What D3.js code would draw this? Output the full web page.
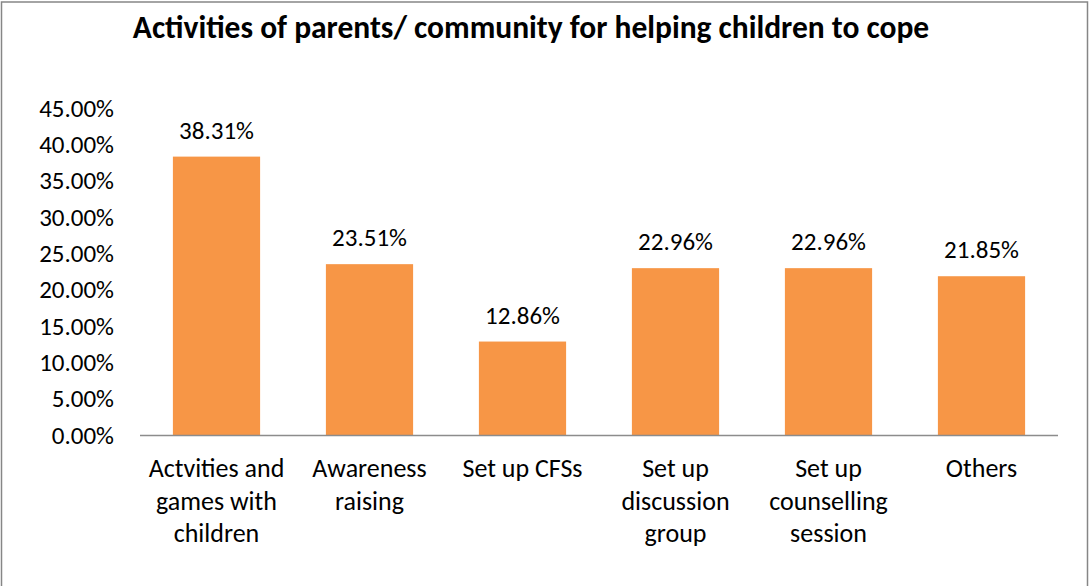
<!DOCTYPE html>
<html>
<head>
<meta charset="utf-8">
<script src="https://cdn.jsdelivr.net/npm/d3@7"></script>
<style>
  html, body { margin: 0; padding: 0; background: #fff; }
  svg { display: block; font-family: Carlito, Calibri, Lato, sans-serif; }
</style>
</head>
<body>
<svg id="chart" width="1092" height="586"></svg>
<script>
const chartTitle = "Activities of parents/ community for helping children to cope";
const categories = [
  ["Actvities and", "games with", "children"],
  ["Awareness", "raising"],
  ["Set up CFSs"],
  ["Set up", "discussion", "group"],
  ["Set up", "counselling", "session"],
  ["Others"]
];
const values = [0.3831, 0.2351, 0.1286, 0.2296, 0.2296, 0.2185];
const yTicks = [0, 0.05, 0.10, 0.15, 0.20, 0.25, 0.30, 0.35, 0.40, 0.45];

const svg = d3.select("#chart");
const W = 1092, H = 586;
const m = { left: 140, right: 34, top: 108, bottom: 151 };
const FONT = "Carlito, Calibri, Lato, sans-serif";

svg.append("rect").attr("x", 1.5).attr("y", 2).attr("width", W - 6).attr("height", H + 10)
  .attr("fill", "#fff").attr("stroke", "#868686").attr("stroke-width", 1.5);

svg.append("text").attr("x", 531).attr("y", 38).attr("text-anchor", "middle")
  .attr("font-weight", "bold").attr("font-size", 31.5).attr("fill", "#000")
  .text(chartTitle);

const x = d3.scaleBand().domain(d3.range(categories.length))
  .range([m.left, W - m.right]).paddingInner(0.43).paddingOuter(0.215);
const y = d3.scaleLinear().domain([0, 0.45]).range([H - m.bottom, m.top]);

// y axis labels
const yAxis = d3.axisLeft(y).tickValues(yTicks).tickFormat(d3.format(".2%")).tickSize(0).tickPadding(26);
const ya = svg.append("g").attr("transform", `translate(${m.left},0)`).call(yAxis);
ya.select(".domain").remove();
ya.selectAll("text").attr("font-size", 25).attr("fill", "#000").attr("font-family", FONT);

// bars
svg.append("g").selectAll("rect").data(values).join("rect")
  .attr("x", (d, i) => x(i)).attr("width", x.bandwidth())
  .attr("y", d => y(d)).attr("height", d => y(0) - y(d))
  .attr("fill", "#F79646");

// baseline
svg.append("line").attr("x1", m.left).attr("x2", W - m.right)
  .attr("y1", y(0) + 0.5).attr("y2", y(0) + 0.5).attr("stroke", "#8c8c8c").attr("stroke-width", 1.5);

// value labels
svg.append("g").selectAll("text").data(values).join("text")
  .attr("x", (d, i) => x(i) + x.bandwidth() / 2).attr("y", d => y(d) - 18)
  .attr("text-anchor", "middle").attr("font-size", 25).attr("fill", "#000")
  .text(d => d3.format(".2%")(d));

// category labels
const cg = svg.append("g").selectAll("text").data(categories).join("text")
  .attr("text-anchor", "middle").attr("font-size", 26).attr("fill", "#000");
cg.each(function(lines, i) {
  const t = d3.select(this);
  lines.forEach((ln, j) => {
    t.append("tspan").attr("x", x(i) + x.bandwidth() / 2).attr("y", y(0) + 42 + j * 32.5).text(ln);
  });
});
</script>
</body>
</html>
